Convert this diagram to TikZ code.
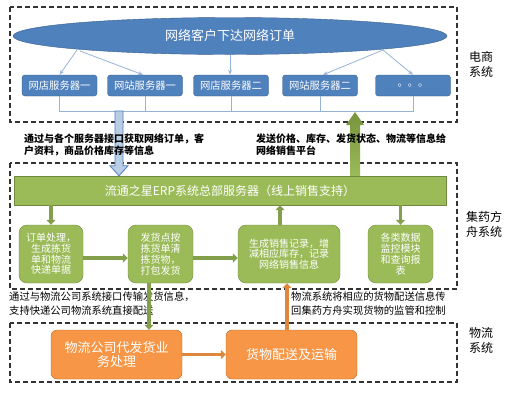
\documentclass[tikz,border=0pt]{standalone}
\usepackage{fontspec}
\setmainfont{Noto Sans CJK SC}
\usepackage{xcolor}
\usetikzlibrary{calc,arrows.meta,shapes.geometric}

\definecolor{blueFill}{HTML}{4F81BD}
\definecolor{blueLine}{HTML}{385D8A}
\definecolor{lightBlue}{HTML}{95B3D7}
\definecolor{paleBlue}{HTML}{B9CDE5}
\definecolor{greenFill}{HTML}{9BBB59}
\definecolor{greenLine}{HTML}{71893F}
\definecolor{greenDark}{HTML}{77933C}
\definecolor{orangeFill}{HTML}{F79646}
\definecolor{orangeLine}{HTML}{B66D31}

\tikzset{
	sysbox/.style={draw=black!80, line width=1.2pt, dash pattern=on 5pt off 3pt},
	srvbox/.style={draw=blueLine, fill=blueFill, rounded corners=3pt, minimum width=75, minimum height=21, inner sep=1pt, text=white, font=\fontsize{10.3}{11}\selectfont},
	stepbox/.style={draw=greenLine, fill=greenFill, rounded corners=8pt, minimum height=58, text=white, align=center, inner sep=1pt, font=\fontsize{10}{10.8}\selectfont},
	shipbox/.style={draw=orangeLine, fill=orangeFill, rounded corners=6pt, minimum width=131, minimum height=49, text=white, align=center, font=\fontsize{13}{14}\selectfont},
	blink/.style={draw=lightBlue, line width=0.8pt},
	garrow/.style={draw=greenFill!85!black, line width=3.5pt, -{Triangle[length=5pt,width=9pt]}},
	oarrow/.style={draw=orangeFill!90!black, line width=3.5pt, -{Triangle[length=5pt,width=9pt]}},
	note/.style={align=left, inner sep=0pt, font=\fontsize{10.3}{13.3}\selectfont},
	bnote/.style={align=left, inner sep=0pt, font=\bfseries\fontsize{10}{11.8}\selectfont},
	side/.style={align=left, inner sep=0pt, font=\fontsize{12}{15}\selectfont}
}

\begin{document}
\begin{tikzpicture}[x=1pt,y=-1pt]
	\useasboundingbox (0,0) rectangle (510,400);
	% system frames
	\draw[sysbox] (10,7) rectangle (457,122);
	\draw[sysbox] (10,163) rectangle (457,289);
	\draw[sysbox] (10,323) rectangle (457,382);
	\node[side] (ec) at (481,64) {电商\\系统};
	\node[side] (jy) at (484,224) {集药方\\舟系统};
	\node[side] (wl) at (481,340) {物流\\系统};

	% e-commerce part
	\node[ellipse, draw=blueLine, fill=blueFill, minimum width=434, minimum height=37, text=white, font=\fontsize{13}{15}\selectfont] (order) at (230,36) {网络客户下达网络订单};
	\node[srvbox] (s1) at (59.5,85.5) {网店服务器一};
	\node[srvbox] (s2) at (145,85.5) {网站服务器一};
	\node[srvbox] (s3) at (231,85.5) {网店服务器二};
	\node[srvbox] (s4) at (320,85.5) {网站服务器二};
	\node[srvbox] (s5) at (413,85.5) {。。。};
	\coordinate (e1) at (77,50);
	\coordinate (e2) at (80,51);
	\coordinate (e4) at (383,50);
	\draw[blink, -{Stealth[length=5pt]}] (e1) -- (s1.north);
	\draw[blink, -{Stealth[length=5pt]}] (e2) -- ($(s2.north)+(-2,0)$);
	\draw[blink, -{Stealth[length=5pt]}] (order.south) -- (order.south |- s3.north);
	\draw[blink, -{Stealth[length=5pt]}] (e4) -- ($(s4.north)+(3,0)$);
	\draw[blink, -{Stealth[length=5pt]}] (e4) -- (s5.north);
	\coordinate (bus) at (0,111);
	\draw[blink] (s1.south) -- (s1.south |- bus) -- (s5.south |- bus) -- (s5.south);
	\foreach \s in {s2,s3,s4}
		\draw[blink] (\s.south) -- (\s.south |- bus);

	% ERP part
	\node[draw=greenLine, fill=greenFill, minimum width=432, minimum height=29, text=white, font=\fontsize{12}{14}\selectfont] (erp) at (230,190.5) {流通之星ERP系统总部服务器（线上销售支持）};
	\node[stepbox, minimum width=64] (a) at (51,254) {订单处理，\\生成拣货\\单和物流\\快递单据};
	\node[stepbox, minimum width=65] (b) at (160.5,254) {发货点按\\拣货单清\\拣货物，\\打包发货};
	\node[stepbox, minimum width=102] (c) at (289,254) {生成销售记录，增\\减相应库存，记录\\网络销售信息};
	\node[stepbox, minimum width=65] (d) at (400.5,254) {各类数据\\监控模块\\和查询报\\表};

	% fat arrows between e-commerce and ERP
	\coordinate (bdown) at (119,111);
	\coordinate (gup) at (355,112);
	\filldraw[fill=paleBlue, draw=blueFill, line width=0.8pt]
		($(bdown)+(-4,0)$) -- ($(bdown |- erp.north)+(-4,-10)$) -- ($(bdown |- erp.north)+(-9,-10)$)
		-- (bdown |- erp.north) -- ($(bdown |- erp.north)+(9,-10)$) -- ($(bdown |- erp.north)+(4,-10)$)
		-- ($(bdown)+(4,0)$) -- cycle;
	\shade[bottom color=greenFill, top color=greenDark]
		($(gup |- erp.north)+(-5,0)$) -- ($(gup)+(-5,13)$) -- ($(gup)+(-9,13)$) -- (gup)
		-- ($(gup)+(9,13)$) -- ($(gup)+(5,13)$) -- ($(gup |- erp.north)+(5,0)$) -- cycle;
	\node[bnote, anchor=north west] (getinfo) at (24,134) {通过与各个服务器接口获取网络订单，客\\户资料，商品价格库存等信息};
	\node[bnote, anchor=north west] (sendinfo) at (256,134) {发送价格、库存、发货状态、物流等信息给\\网络销售平台};

	% arrows inside ERP
	\coordinate (row) at (0,258);
	\coordinate (cup) at (280,0);
	\draw[garrow] (erp.south -| a.north) -- (a.north);
	\draw[garrow] (erp.south -| d.north) -- (d.north);
	\draw[garrow] (c.north -| cup) -- (erp.south -| cup);
	\draw[garrow] (a.east |- row) -- (b.west |- row);
	\draw[garrow] (b.east |- row) -- (c.west |- row);

	% logistics part
	\node[shipbox] (o1) at (116.5,354.5) {物流公司代发货业\\务处理};
	\node[shipbox] (o2) at (291.5,354.5) {货物配送及运输};
	\node[note, anchor=north west] (tolog) at (9,292) {通过与物流公司系统接口传输发货信息，\\支持快递公司物流系统直接配送};
	\node[note, anchor=north west] (fromlog) at (291,292) {物流系统将相应的货物配送信息传\\回集药方舟实现货物的监管和控制};
	\coordinate (bdn) at (149,0);
	\coordinate (oup) at (287,0);
	\draw[garrow] (b.south -| bdn) -- (o1.north -| bdn);
	\draw[oarrow] (o2.north -| oup) -- (c.south -| oup);
	\draw[oarrow] (o1.east) -- (o2.west);
\end{tikzpicture}
\end{document}
